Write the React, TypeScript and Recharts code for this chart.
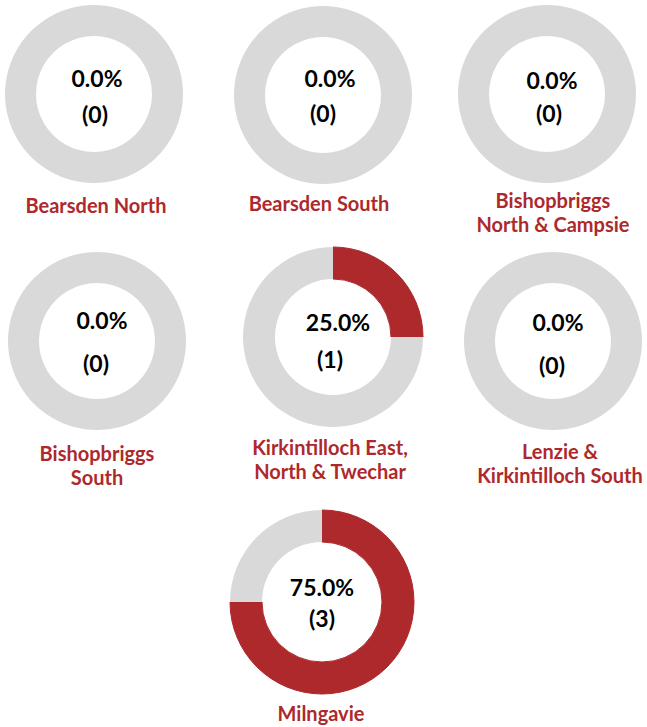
import { PieChart, Pie, Cell } from 'recharts';

const regions = [
  ['Bearsden North'],
  ['Bearsden South'],
  ['Bishopbriggs', 'North & Campsie'],
  ['Bishopbriggs', 'South'],
  ['Kirkintilloch East,', 'North & Twechar'],
  ['Lenzie &', 'Kirkintilloch South'],
  ['Milngavie'],
];
const counts = [0, 0, 0, 0, 1, 0, 3];
const percents = [0, 0, 0, 0, 25, 0, 75];
const total = 4;

const RED = '#AD292C';
const GREY = '#D9D9D9';

// where each donut and its texts sit on the page
const layout = [
  { cx: 94, cy: 94, r: 89, ir: 58, pct: [97, 78], cnt: [95, 114], lab: [96, 205] },
  { cx: 323, cy: 95, r: 89, ir: 58, pct: [330, 78], cnt: [323, 113], lab: [319, 203] },
  { cx: 547, cy: 94, r: 89, ir: 58, pct: [552, 80], cnt: [549, 113], lab: [553, 200] },
  { cx: 97, cy: 341, r: 89, ir: 58, pct: [102, 320], cnt: [96, 363], lab: [97, 453] },
  { cx: 333, cy: 337, r: 90, ir: 58, pct: [338, 322], cnt: [330, 359], lab: [330, 447] },
  { cx: 553, cy: 341, r: 89, ir: 58, pct: [558, 322], cnt: [552, 365], lab: [560, 451] },
  { cx: 322, cy: 602, r: 92, ir: 60, pct: [322, 587], cnt: [322, 618], lab: [321, 713] },
];

const font = 'Lato, "Open Sans", sans-serif';

function Centered({ x, y, size, color, children }: any) {
  return (
    <div
      style={{
        position: 'absolute',
        left: x,
        top: y,
        transform: 'translate(-50%, -50%)',
        fontFamily: font,
        fontWeight: 700,
        fontSize: size,
        color,
        lineHeight: 1,
        whiteSpace: 'nowrap',
      }}
    >
      {children}
    </div>
  );
}

function Donut({ i }: { i: number }) {
  const l = layout[i];
  const size = 200;
  const data = [
    { name: 'yes', value: counts[i] },
    { name: 'no', value: total - counts[i] },
  ];
  return (
    <>
      <div style={{ position: 'absolute', left: l.cx - size / 2, top: l.cy - size / 2 }}>
        <PieChart width={size} height={size} margin={{ top: 0, right: 0, bottom: 0, left: 0 }}>
          <Pie
            data={data}
            dataKey="value"
            cx={size / 2}
            cy={size / 2}
            innerRadius={l.ir}
            outerRadius={l.r}
            startAngle={90}
            endAngle={-270}
            isAnimationActive={false}
          >
            <Cell fill={RED} stroke={RED} strokeWidth={1} />
            <Cell fill={GREY} stroke="none" />
          </Pie>
        </PieChart>
      </div>
      <Centered x={l.pct[0]} y={l.pct[1]} size={23} color="#000">
        {percents[i].toFixed(1)}%
      </Centered>
      <Centered x={l.cnt[0]} y={l.cnt[1]} size={23} color="#000">
        ({counts[i]})
      </Centered>
      {regions[i].map((line, k) => (
        <Centered key={k} x={l.lab[0]} y={l.lab[1] + k * 24} size={20} color={RED}>
          {line}
        </Centered>
      ))}
    </>
  );
}

export default function App() {
  return (
    <div style={{ position: 'absolute', left: 0, top: 0, width: 647, height: 727, background: '#fff' }}>
      {regions.map((_, i) => (
        <Donut key={i} i={i} />
      ))}
    </div>
  );
}
